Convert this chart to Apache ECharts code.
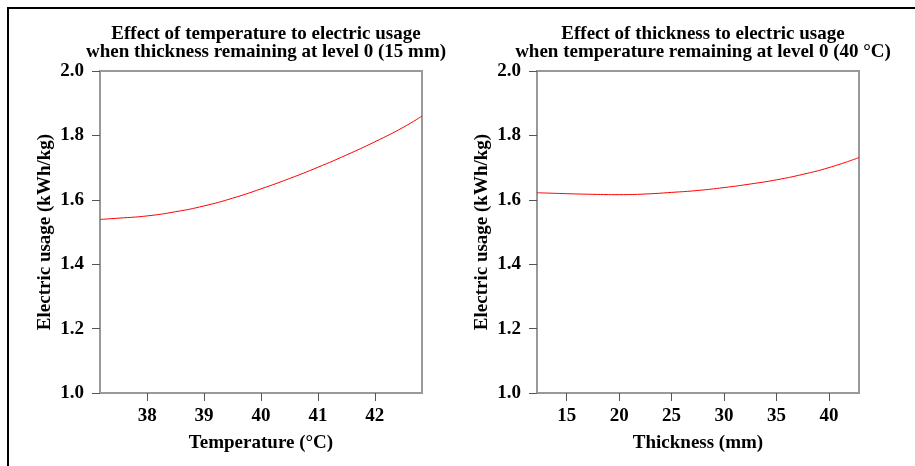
<!DOCTYPE html>
<html>
<head>
<meta charset="utf-8">
<script src="https://cdn.jsdelivr.net/npm/echarts@6/dist/echarts.min.js"></script>
<style>
    html, body { margin: 0; padding: 0; background: #fff; }
    #main { width: 915px; height: 466px; }
</style>
</head>
<body>
<div id="main"></div>
<script>
// temperature panel (thickness at level 0)
var tempX = [37.17, 37.5, 38, 38.5, 39, 39.5, 40, 40.5, 41, 41.5, 42, 42.5, 42.83];
var tempUsage = [1.539, 1.543, 1.550, 1.563, 1.581, 1.605, 1.634, 1.666, 1.701, 1.739, 1.780, 1.825, 1.860];
var tempTicks = [38, 39, 40, 41, 42];

// thickness panel (temperature at level 0)
var thickX = [12.17, 15, 17.5, 20, 22.5, 25, 27.5, 30, 32.5, 35, 37.5, 40, 42.86];
var thickUsage = [1.622, 1.619, 1.617, 1.616, 1.618, 1.623, 1.629, 1.638, 1.649, 1.662, 1.679, 1.700, 1.731];
var thickTicks = [15, 20, 25, 30, 35, 40];

var font = 'Liberation Serif, Times New Roman, serif';
var txt = { fontFamily: font, fontWeight: 'bold', fontSize: 19, color: '#000' };

function pairs(xs, ys) {
    return xs.map(function (x, i) { return [x, ys[i]]; });
}

function xAxisFor(idx, min, max, ticks, name) {
    return {
        type: 'value', gridIndex: idx, min: min, max: max,
        name: name, nameLocation: 'middle', nameGap: 41,
        nameTextStyle: txt,
        axisLine: { show: false },
        axisTick: { show: true, length: 8, customValues: ticks, lineStyle: { color: '#555' } },
        axisLabel: Object.assign({ customValues: ticks, margin: 14 }, txt),
        splitLine: { show: false }
    };
}

function yAxisFor(idx) {
    return {
        type: 'value', gridIndex: idx, min: 1, max: 2, interval: 0.2,
        name: 'Electric usage (kWh/kg)', nameLocation: 'middle', nameGap: 45,
        nameTextStyle: txt,
        axisLine: { show: false },
        axisTick: { show: true, length: 8, lineStyle: { color: '#555' } },
        axisLabel: Object.assign({
            margin: 16,
            formatter: function (v) { return v.toFixed(1); }
        }, txt),
        splitLine: { show: false }
    };
}

var myChart = echarts.init(document.getElementById('main'));

var option = {
    backgroundColor: '#fff',
    animation: false,
    title: [{
        text: 'Effect of temperature to electric usage\nwhen thickness remaining at level 0 (15 mm)',
        left: 261, top: 20, textAlign: 'center',
        textStyle: Object.assign({ lineHeight: 18 }, txt)
    }, {
        text: 'Effect of thickness to electric usage\nwhen temperature remaining at level 0 (40 °C)',
        left: 698, top: 20, textAlign: 'center',
        textStyle: Object.assign({ lineHeight: 18 }, txt)
    }],
    grid: [
        { left: 100, top: 71, width: 322, height: 322, show: true, borderColor: '#999', borderWidth: 2, backgroundColor: 'transparent' },
        { left: 537, top: 71, width: 322, height: 322, show: true, borderColor: '#999', borderWidth: 2, backgroundColor: 'transparent' }
    ],
    xAxis: [
        xAxisFor(0, 37.17, 42.83, tempTicks, 'Temperature (°C)'),
        xAxisFor(1, 12.17, 42.86, thickTicks, 'Thickness (mm)')
    ],
    yAxis: [yAxisFor(0), yAxisFor(1)],
    series: [
        {
            type: 'line', xAxisIndex: 0, yAxisIndex: 0, smooth: true, showSymbol: false,
            lineStyle: { color: '#ff0000', width: 1 },
            data: pairs(tempX, tempUsage)
        },
        {
            type: 'line', xAxisIndex: 1, yAxisIndex: 1, smooth: true, showSymbol: false,
            lineStyle: { color: '#ff0000', width: 1 },
            data: pairs(thickX, thickUsage)
        }
    ],
    // picture frame (top and left edges)
    graphic: [
        { type: 'line', shape: { x1: 7, y1: 8, x2: 915, y2: 8 }, style: { stroke: '#000', lineWidth: 2 } },
        { type: 'line', shape: { x1: 8, y1: 7, x2: 8, y2: 466 }, style: { stroke: '#000', lineWidth: 2 } }
    ]
};

myChart.setOption(option);
</script>
</body>
</html>
